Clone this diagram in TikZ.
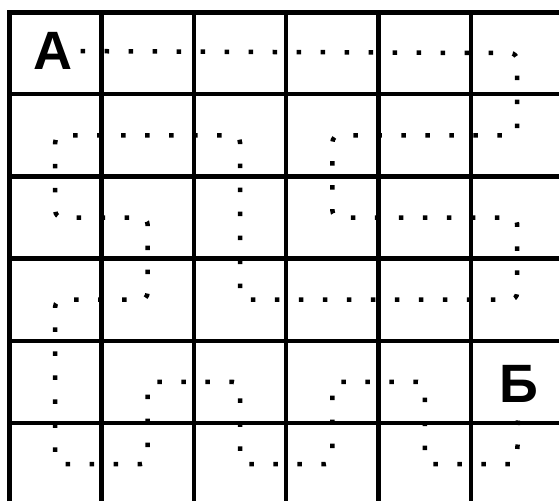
\documentclass[tikz,border=0pt]{standalone}
\usepackage{fontspec}
\setmainfont{Liberation Sans}
\begin{document}
\begin{tikzpicture}[x=1pt,y=-1pt,
  gridline/.style={line width=4.5pt, black},
  border/.style={line width=5pt, black, line join=miter},
  route/.style={line width=4.5pt, black, dash pattern=on 4.5pt off 19.5pt, dash phase=16pt, rounded corners=7pt},
  letter/.style={font=\fontsize{54}{54}\bfseries\selectfont, inner sep=0pt}]
\useasboundingbox (0,0) rectangle (559,501);
\fill[white] (0,0) rectangle (559,501);
\foreach \x in {101.4,193.8,286.2,378.6,471} \draw[gridline] (\x,12) -- (\x,501);
\foreach \y in {94.2,176.4,258.6,340.8,423} \draw[gridline] (9,\y) -- (559,\y);
\draw[border] (9,501) -- (9,12) -- (559,12);
\foreach \c in {0,...,5} {
  \foreach \r in {0,...,5} {
    \coordinate (c\c\r) at ({55.2+92.4*\c},{53.1+82.2*\r});
  }
}
\node[letter] (A) at (53,51) {А};
\node[letter] (B) at (518.5,384) {Б};
\draw[route] (A) -- (c50) -- (c51) -- (c31) -- (c32) -- (c52) -- (c53) -- (c23) -- (c21) -- (c01) -- (c02) -- (c12) -- (c13) -- (c03) -- (c05) -- (c15) -- (c14) -- (c24) -- (c25) -- (c35) -- (c34) -- (c44) -- (c45) -- (c55) -- (B);
\end{tikzpicture}
\end{document}
